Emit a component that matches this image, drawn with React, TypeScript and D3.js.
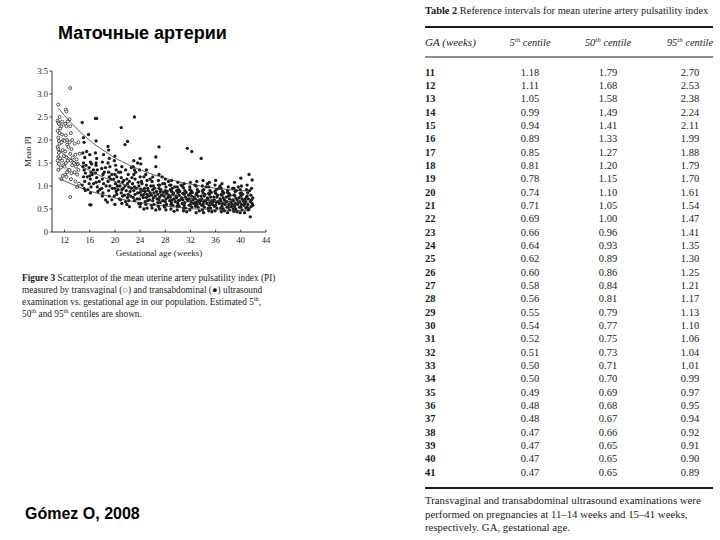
import React from "react";
import * as d3 from "d3";

// ---- Table data (Gómez O, 2008) ----
const GA = [11, 12, 13, 14, 15, 16, 17, 18, 19, 20, 21, 22, 23, 24, 25, 26, 27, 28, 29, 30, 31, 32, 33, 34, 35, 36, 37, 38, 39, 40, 41];
const P5 = [1.18, 1.11, 1.05, 0.99, 0.94, 0.89, 0.85, 0.81, 0.78, 0.74, 0.71, 0.69, 0.66, 0.64, 0.62, 0.60, 0.58, 0.56, 0.55, 0.54, 0.52, 0.51, 0.50, 0.50, 0.49, 0.48, 0.48, 0.47, 0.47, 0.47, 0.47];
const P50 = [1.79, 1.68, 1.58, 1.49, 1.41, 1.33, 1.27, 1.20, 1.15, 1.10, 1.05, 1.00, 0.96, 0.93, 0.89, 0.86, 0.84, 0.81, 0.79, 0.77, 0.75, 0.73, 0.71, 0.70, 0.69, 0.68, 0.67, 0.66, 0.65, 0.65, 0.65];
const P95 = [2.70, 2.53, 2.38, 2.24, 2.11, 1.99, 1.88, 1.79, 1.70, 1.61, 1.54, 1.47, 1.41, 1.35, 1.30, 1.25, 1.21, 1.17, 1.13, 1.10, 1.06, 1.04, 1.01, 0.99, 0.97, 0.95, 0.94, 0.92, 0.91, 0.90, 0.89];

const X_TICKS = [12, 16, 20, 24, 28, 32, 36, 40, 44];
const Y_TICKS = [0, 0.5, 1.0, 1.5, 2.0, 2.5, 3.0, 3.5];

// Transvaginal (open circles), [week, PI]
const TV_POINTS: [number, number][] = [
  [11.0, 2.77], [10.9, 2.42], [11.0, 2.38], [11.1, 2.35], [10.9, 2.2], [11.0, 2.05], [11.1, 1.98], [10.9, 1.85], [11.0, 1.8], [11.1, 1.72],
  [11.0, 1.63], [10.9, 1.55], [11.1, 1.48], [11.0, 1.35], [11.2, 2.15], [11.3, 2.25], [11.2, 1.92], [11.3, 1.6], [11.4, 1.4], [11.2, 2.5],
  [11.5, 2.3], [11.6, 2.12], [11.5, 1.95], [11.7, 1.78], [11.6, 1.55], [11.8, 1.45], [11.7, 1.22], [11.5, 1.15], [11.8, 2.0], [11.9, 1.65], [11.6, 2.4],
  [12.2, 2.66], [12.3, 2.62], [12.1, 2.35], [12.3, 2.3], [12.2, 2.1], [12.0, 1.98], [12.4, 1.9], [12.1, 1.75], [12.3, 1.62], [12.2, 1.5],
  [12.0, 1.42], [12.4, 1.3], [12.1, 1.25], [12.3, 1.2], [12.5, 2.4], [12.4, 2.0], [12.6, 1.85], [12.5, 1.55], [12.6, 1.35],
  [12.9, 3.13], [12.8, 2.45], [12.9, 2.3], [13.0, 2.15], [12.8, 1.95], [13.1, 1.8], [12.9, 1.7], [13.0, 1.55], [13.2, 1.45], [12.8, 1.35],
  [13.1, 1.28], [13.0, 1.15], [12.9, 0.76], [13.2, 2.0], [13.3, 1.62],
  [13.6, 1.92], [13.7, 1.68], [13.5, 1.5], [13.8, 1.42], [13.6, 1.3], [13.9, 1.58], [14.0, 1.25], [13.7, 1.1], [14.1, 1.48], [14.2, 1.35],
  [14.3, 1.05], [14.0, 0.98], [14.4, 1.7], [14.2, 1.95],
];

// Transabdominal (filled dots), [week, PI]
const TA_POINTS: [number, number][] = [
  [14.8, 2.38], [15.0, 2.05], [15.1, 1.95], [14.9, 1.72], [15.2, 1.62], [15.0, 1.5], [14.9, 1.42], [15.1, 1.35], [15.3, 1.28], [15.0, 1.2], [15.2, 1.1], [14.8, 1.02], [15.1, 0.95], [15.3, 0.9], [15.4, 1.45], [15.5, 1.75],
  [15.8, 2.12], [16.0, 1.68], [16.1, 1.52], [15.9, 1.4], [16.2, 1.3], [16.0, 1.22], [16.1, 1.15], [15.9, 1.05], [16.2, 0.98], [16.0, 0.59], [16.2, 0.59], [16.3, 1.48], [16.4, 1.25], [16.1, 0.85],
  [16.9, 2.47], [17.1, 2.47], [17.0, 1.98], [16.9, 1.72], [17.1, 1.6], [17.0, 1.45], [17.2, 1.35], [16.9, 1.28], [17.1, 1.18], [17.0, 1.08], [17.2, 0.98], [17.3, 0.88], [17.0, 1.5],
  [18.0, 1.52], [17.9, 1.38], [18.1, 1.25], [18.0, 1.15], [18.2, 1.05], [17.9, 0.95], [18.1, 0.85], [18.0, 0.78], [18.2, 1.68], [18.3, 1.3],
  [18.9, 1.86], [19.0, 1.78], [19.1, 1.6], [18.9, 1.5], [19.2, 1.42], [19.0, 1.3], [19.1, 1.2], [18.9, 1.1], [19.2, 1.0], [19.0, 0.9], [19.1, 0.78], [18.8, 0.65], [19.3, 1.15],
  [20.0, 1.65], [19.9, 1.55], [20.1, 1.45], [20.2, 1.35], [20.0, 1.25], [19.8, 1.15], [20.1, 1.05], [20.0, 0.95], [20.2, 0.88], [19.9, 0.78], [20.0, 0.6], [20.3, 1.2], [20.4, 1.0], [20.3, 0.82],
  [21.0, 2.27], [21.1, 1.42], [20.9, 1.3], [21.0, 1.18], [21.2, 1.08], [20.8, 1.0], [21.1, 0.92], [21.0, 0.85], [21.2, 0.78], [20.9, 0.7], [21.1, 0.62], [21.3, 0.95], [21.4, 1.12],
  [21.6, 1.9], [22.0, 1.97], [22.1, 1.25], [21.9, 1.15], [22.0, 1.05], [22.2, 0.98], [21.8, 0.9], [22.1, 0.82], [22.0, 0.75], [22.2, 0.68], [21.9, 0.6], [22.3, 1.1], [22.4, 0.88],
  [23.1, 2.5], [23.0, 1.55], [22.9, 1.42], [23.1, 1.35], [23.0, 1.25], [23.2, 1.15], [22.8, 1.05], [23.1, 0.98], [23.0, 0.9], [23.2, 0.82], [22.9, 0.75], [23.1, 0.68], [23.3, 1.3], [23.4, 0.95],
  [24.0, 1.6], [24.1, 1.48], [23.9, 1.35], [24.0, 1.2], [24.2, 1.1], [23.8, 1.0], [24.1, 0.93], [24.0, 0.86], [24.2, 0.8], [23.9, 0.72], [24.1, 0.62], [24.0, 0.55], [24.3, 1.05], [24.4, 0.9], [24.5, 0.75],
  [25.0, 1.35], [24.9, 1.25], [25.1, 1.12], [25.0, 1.02], [25.2, 0.95], [24.8, 0.88], [25.1, 0.82], [25.0, 0.75], [25.2, 0.68], [24.9, 0.6], [25.1, 0.52], [25.3, 0.9], [25.4, 0.78],
  [26.5, 1.63], [26.5, 1.42], [26.0, 1.2], [25.9, 1.1], [26.1, 1.0], [26.0, 0.92], [26.2, 0.85], [25.8, 0.8], [26.1, 0.74], [26.0, 0.68], [26.2, 0.6], [25.9, 0.52], [26.3, 0.95], [26.4, 0.78], [26.6, 0.88],
  [27.0, 1.85], [27.0, 1.25], [26.9, 1.12], [27.1, 1.02], [27.0, 0.95], [27.2, 0.88], [26.8, 0.82], [27.1, 0.76], [27.0, 0.7], [27.2, 0.64], [26.9, 0.56], [27.1, 0.5], [27.3, 0.92], [27.4, 0.8], [27.5, 1.2],
  [28.0, 1.15], [27.9, 1.05], [28.1, 0.98], [28.0, 0.9], [28.2, 0.84], [27.8, 0.78], [28.1, 0.72], [28.0, 0.66], [28.2, 0.6], [27.9, 0.54], [28.3, 0.88], [28.4, 0.75], [28.5, 1.1], [28.1, 0.48],
  [29.0, 1.12], [28.9, 1.02], [29.1, 0.95], [29.0, 0.88], [29.2, 0.82], [28.8, 0.76], [29.1, 0.7], [29.0, 0.64], [29.2, 0.58], [28.9, 0.5], [29.3, 0.85], [29.4, 0.72], [29.5, 0.98],
  [30.0, 1.08], [29.9, 0.98], [30.1, 0.92], [30.0, 0.85], [30.2, 0.8], [29.8, 0.74], [30.1, 0.68], [30.0, 0.62], [30.2, 0.56], [29.9, 0.48], [30.3, 0.88], [30.4, 0.7], [30.5, 1.02],
  [31.5, 1.82], [31.0, 1.05], [30.9, 0.96], [31.1, 0.9], [31.0, 0.82], [31.2, 0.76], [30.8, 0.7], [31.1, 0.64], [31.0, 0.58], [31.2, 0.52], [31.3, 0.86], [31.4, 0.72], [30.9, 0.46],
  [32.2, 1.75], [32.0, 1.08], [31.9, 0.98], [32.1, 0.9], [32.0, 0.84], [32.2, 0.78], [31.8, 0.72], [32.1, 0.66], [32.0, 0.6], [32.2, 0.54], [31.9, 0.48], [32.3, 0.86], [32.4, 0.7], [32.5, 0.62],
  [33.7, 1.6], [33.0, 1.1], [32.9, 1.0], [33.1, 0.92], [33.0, 0.85], [33.2, 0.78], [32.8, 0.72], [33.1, 0.66], [33.0, 0.6], [33.2, 0.54], [32.9, 0.42], [33.3, 0.88], [33.4, 0.7], [33.5, 0.62],
  [34.0, 1.12], [33.9, 1.0], [34.1, 0.92], [34.0, 0.85], [34.2, 0.78], [33.8, 0.72], [34.1, 0.66], [34.0, 0.6], [34.2, 0.54], [33.9, 0.48], [34.3, 0.82], [34.4, 0.68], [34.5, 0.98], [34.1, 0.42],
  [35.0, 1.08], [34.9, 0.98], [35.1, 0.9], [35.0, 0.82], [35.2, 0.76], [34.8, 0.7], [35.1, 0.64], [35.0, 0.58], [35.2, 0.52], [34.9, 0.46], [35.3, 0.86], [35.4, 0.68], [35.5, 0.6],
  [36.0, 1.12], [35.9, 1.02], [36.1, 0.92], [36.0, 0.84], [36.2, 0.76], [35.8, 0.7], [36.1, 0.64], [36.0, 0.58], [36.2, 0.52], [35.9, 0.46], [36.3, 0.8], [36.4, 0.66], [36.5, 0.95],
  [37.0, 1.05], [36.9, 0.95], [37.1, 0.88], [37.0, 0.8], [37.2, 0.74], [36.8, 0.68], [37.1, 0.62], [37.0, 0.56], [37.2, 0.5], [36.9, 0.44], [37.3, 0.85], [37.4, 0.7], [37.5, 0.6],
  [38.0, 0.98], [37.9, 0.9], [38.1, 0.84], [38.0, 0.78], [38.2, 0.72], [37.8, 0.66], [38.1, 0.6], [38.0, 0.54], [38.2, 0.48], [37.9, 0.42], [38.3, 0.8], [38.4, 0.65], [38.5, 0.55],
  [39.0, 1.08], [38.9, 0.95], [39.1, 0.88], [39.0, 0.8], [39.2, 0.74], [38.8, 0.68], [39.1, 0.62], [39.0, 0.56], [39.2, 0.5], [38.9, 0.45], [39.3, 0.9], [39.4, 0.7], [39.5, 0.6],
  [40.0, 1.17], [40.1, 1.0], [39.9, 0.92], [40.1, 0.85], [40.0, 0.78], [40.2, 0.72], [39.8, 0.66], [40.1, 0.6], [40.0, 0.54], [40.2, 0.48], [39.9, 0.42], [40.3, 0.82], [40.4, 0.68], [40.5, 0.58],
  [41.3, 1.25], [41.8, 1.13], [41.0, 1.02], [40.9, 0.92], [41.1, 0.85], [41.0, 0.78], [41.2, 0.72], [40.8, 0.66], [41.1, 0.6], [41.0, 0.54], [41.2, 0.48], [41.5, 0.33], [41.4, 0.9], [41.6, 0.8], [41.7, 0.7], [41.8, 0.62], [41.6, 0.55], [41.7, 0.95],
];

// Extra transabdominal dots in the dense band (read from the crowded region)
const TA_POINTS_DENSE: [number, number][] = [
  [20.5, 0.92], [20.6, 1.1], [20.7, 0.72], [21.5, 0.8], [21.6, 1.0], [21.7, 0.66], [22.5, 0.78], [22.6, 0.95], [22.7, 1.18], [23.5, 0.72],
  [23.6, 0.85], [23.7, 1.08], [23.8, 0.62], [24.6, 0.82], [24.7, 0.95], [24.8, 0.66], [25.5, 0.7], [25.6, 0.85], [25.7, 1.0], [25.8, 0.58],
  [26.7, 0.72], [26.8, 0.64], [26.9, 1.02], [27.6, 0.68], [27.7, 0.86], [27.8, 0.58], [28.6, 0.8], [28.7, 0.68], [28.8, 0.92], [28.9, 0.6],
  [29.6, 0.66], [29.7, 0.78], [29.8, 0.9], [29.9, 0.56], [30.6, 0.74], [30.7, 0.62], [30.8, 0.84], [30.9, 0.52], [31.6, 0.68], [31.7, 0.8],
  [31.8, 0.58], [31.9, 0.92], [32.6, 0.76], [32.7, 0.64], [32.8, 0.56], [32.9, 0.82], [33.6, 0.68], [33.7, 0.78], [33.8, 0.58], [33.9, 0.9],
  [34.6, 0.62], [34.7, 0.74], [34.8, 0.52], [34.9, 0.84], [35.6, 0.66], [35.7, 0.76], [35.8, 0.56], [35.9, 0.88], [36.6, 0.62], [36.7, 0.72],
  [36.8, 0.52], [36.9, 0.82], [37.6, 0.66], [37.7, 0.76], [37.8, 0.54], [37.9, 0.86], [38.6, 0.6], [38.7, 0.7], [38.8, 0.5], [38.9, 0.8],
  [39.6, 0.64], [39.7, 0.74], [39.8, 0.54], [39.9, 0.84], [40.6, 0.62], [40.7, 0.72], [40.8, 0.52], [40.9, 0.76], [41.5, 0.66], [41.9, 0.58],
  [41.9, 0.74], [41.3, 0.5], [22.3, 0.55], [24.6, 0.5], [26.5, 0.48], [29.4, 0.45], [31.4, 0.44], [33.4, 0.46], [35.4, 0.44], [37.4, 0.46],
  [39.4, 0.44], [40.6, 0.42], [20.6, 1.3], [21.7, 1.35], [22.6, 1.4], [23.6, 1.5], [24.6, 1.2], [25.6, 1.15], [27.6, 1.05], [28.7, 1.02],
  [30.7, 1.0], [32.7, 1.02], [34.7, 1.05], [36.7, 1.0], [38.7, 0.95], [39.6, 0.98], [17.5, 1.1], [17.6, 0.92], [18.5, 1.4], [18.6, 1.0],
  [18.5, 0.7], [19.5, 1.25], [19.6, 0.95], [19.5, 0.7], [16.6, 1.35], [16.6, 1.05], [15.6, 1.2], [15.7, 0.92],
];

const CAPTION = [
  [{ t: "Figure 3", b: true }, { t: " Scatterplot of the mean uterine artery pulsatility index (PI)" }],
  [{ t: "measured by transvaginal (○) and transabdominal (●) ultrasound" }],
  [{ t: "examination vs. gestational age in our population. Estimated 5" }, { t: "th", sup: true }, { t: "," }],
  [{ t: "50" }, { t: "th", sup: true }, { t: " and 95" }, { t: "th", sup: true }, { t: " centiles are shown." }],
];

const TABLE_NOTE = [
  "Transvaginal and transabdominal ultrasound examinations were",
  "performed on pregnancies at 11–14 weeks and 15–41 weeks,",
  "respectively. GA, gestational age.",
];

const INK = "#1c1c1c";
const SERIF = "'Liberation Serif', 'DejaVu Serif', serif";
const SANS = "'Liberation Sans', Arial, sans-serif";

function Seg({ parts, size }: { parts: any[]; size: number }) {
  return (
    <>
      {parts.map((p, i) =>
        p.sup ? (
          <tspan key={i} dy={-size * 0.38} fontSize={size * 0.68}>{p.t}</tspan>
        ) : (
          <tspan key={i} dy={i > 0 && parts[i - 1].sup ? size * 0.38 : 0} fontWeight={p.b ? "bold" : "normal"}>{p.t}</tspan>
        )
      )}
    </>
  );
}

function Scatter() {
  const x = d3.scaleLinear().domain([10, 44]).range([52, 266]);
  const y = d3.scaleLinear().domain([0, 3.5]).range([232, 71]);
  const line = d3
    .line<number>()
    .x((_, i) => x(GA[i]))
    .y((d) => y(d))
    .curve(d3.curveMonotoneX);
  return (
    <g>
      <line x1={x(10)} x2={x(10)} y1={y(0)} y2={y(3.5)} stroke={INK} strokeWidth={0.9} />
      <line x1={x(10)} x2={x(44)} y1={y(0)} y2={y(0)} stroke={INK} strokeWidth={0.9} />
      {Y_TICKS.map((t) => (
        <g key={t}>
          <line x1={x(10) - 2.5} x2={x(10)} y1={y(t)} y2={y(t)} stroke={INK} strokeWidth={0.8} />
          <text x={x(10) - 4} y={y(t) + 3} textAnchor="end" fontFamily={SERIF} fontSize={8.6} fill={INK}>
            {t === 0 ? "0" : d3.format(".1f")(t)}
          </text>
        </g>
      ))}
      {X_TICKS.map((t) => (
        <g key={t}>
          <line x1={x(t)} x2={x(t)} y1={y(0)} y2={y(0) - 2.5} stroke={INK} strokeWidth={0.8} />
          <text x={x(t)} y={y(0) + 11} textAnchor="middle" fontFamily={SERIF} fontSize={8.6} fill={INK}>
            {t}
          </text>
        </g>
      ))}
      <text transform={`translate(31,${(y(0) + y(3.5)) / 2}) rotate(-90)`} textAnchor="middle" fontFamily={SERIF} fontSize={9} fill={INK}>
        Mean PI
      </text>
      <text x={(x(10) + x(44)) / 2} y={256} textAnchor="middle" fontFamily={SERIF} fontSize={9} fill={INK}>
        Gestational age (weeks)
      </text>
      {TV_POINTS.map((p, i) => (
        <circle key={"tv" + i} cx={x(p[0])} cy={y(p[1])} r={1.5} fill="white" stroke={INK} strokeWidth={0.75} />
      ))}
      {TA_POINTS.concat(TA_POINTS_DENSE).map((p, i) => (
        <circle key={"ta" + i} cx={x(p[0])} cy={y(p[1])} r={1.65} fill={INK} />
      ))}
      {[P5, P50, P95].map((s, i) => (
        <path key={i} d={line(s) || ""} fill="none" stroke="#333" strokeWidth={0.8} />
      ))}
      {CAPTION.map((parts, i) => (
        <text key={i} x={22} y={281 + i * 12} fontFamily={SERIF} fontSize={9.3} fill={INK}>
          <Seg parts={parts} size={9.3} />
        </text>
      ))}
    </g>
  );
}

function Table() {
  const rowY = d3.scalePoint<number>().domain(GA).range([72, 472]);
  const left = 425;
  const right = 713;
  const colX = [530, 608, 690];
  const fs = 10.5;
  return (
    <g fontFamily={SERIF} fill={INK}>
      <text x={left} y={14} fontSize={10.4}>
        <tspan fontWeight="bold">Table 2</tspan>
        <tspan> Reference intervals for mean uterine artery pulsatility index</tspan>
      </text>
      <line x1={left} x2={right} y1={27} y2={27} stroke={INK} strokeWidth={1.8} />
      <text x={left} y={46} fontSize={11} fontStyle="italic">GA (weeks)</text>
      {["5", "50", "95"].map((c, i) => (
        <text key={c} x={colX[i]} y={46} fontSize={10.4} fontStyle="italic" textAnchor="middle">
          <Seg parts={[{ t: c }, { t: "th", sup: true }, { t: " centile" }]} size={10.4} />
        </text>
      ))}
      <line x1={left} x2={right} y1={57} y2={57} stroke={INK} strokeWidth={1.2} />
      {GA.map((g, i) => (
        <g key={g}>
          <text x={left} y={(rowY(g) as number) + 3.8} fontSize={fs} fontWeight="bold">{g}</text>
          {[P5[i], P50[i], P95[i]].map((v, j) => (
            <text key={j} x={colX[j]} y={(rowY(g) as number) + 3.8} fontSize={fs} textAnchor="middle">
              {d3.format(".2f")(v)}
            </text>
          ))}
        </g>
      ))}
      <line x1={left} x2={right} y1={488} y2={488} stroke={INK} strokeWidth={1.8} />
      {TABLE_NOTE.map((s, i) => (
        <text key={i} x={left} y={504 + i * 13.5} fontSize={10.8}>{s}</text>
      ))}
    </g>
  );
}

export default function App() {
  return (
    <svg width={720} height={540} style={{ position: "absolute", left: 0, top: 0, background: "white" }}>
      <rect width={720} height={540} fill="white" />
      <text x={58} y={39} fontFamily={SANS} fontWeight="bold" fontSize={18} fill="#000">
        Маточные артерии
      </text>
      <Scatter />
      <Table />
      <text x={25} y={519} fontFamily={SANS} fontWeight="bold" fontSize={16} fill="#000">
        Gómez O, 2008
      </text>
    </svg>
  );
}
